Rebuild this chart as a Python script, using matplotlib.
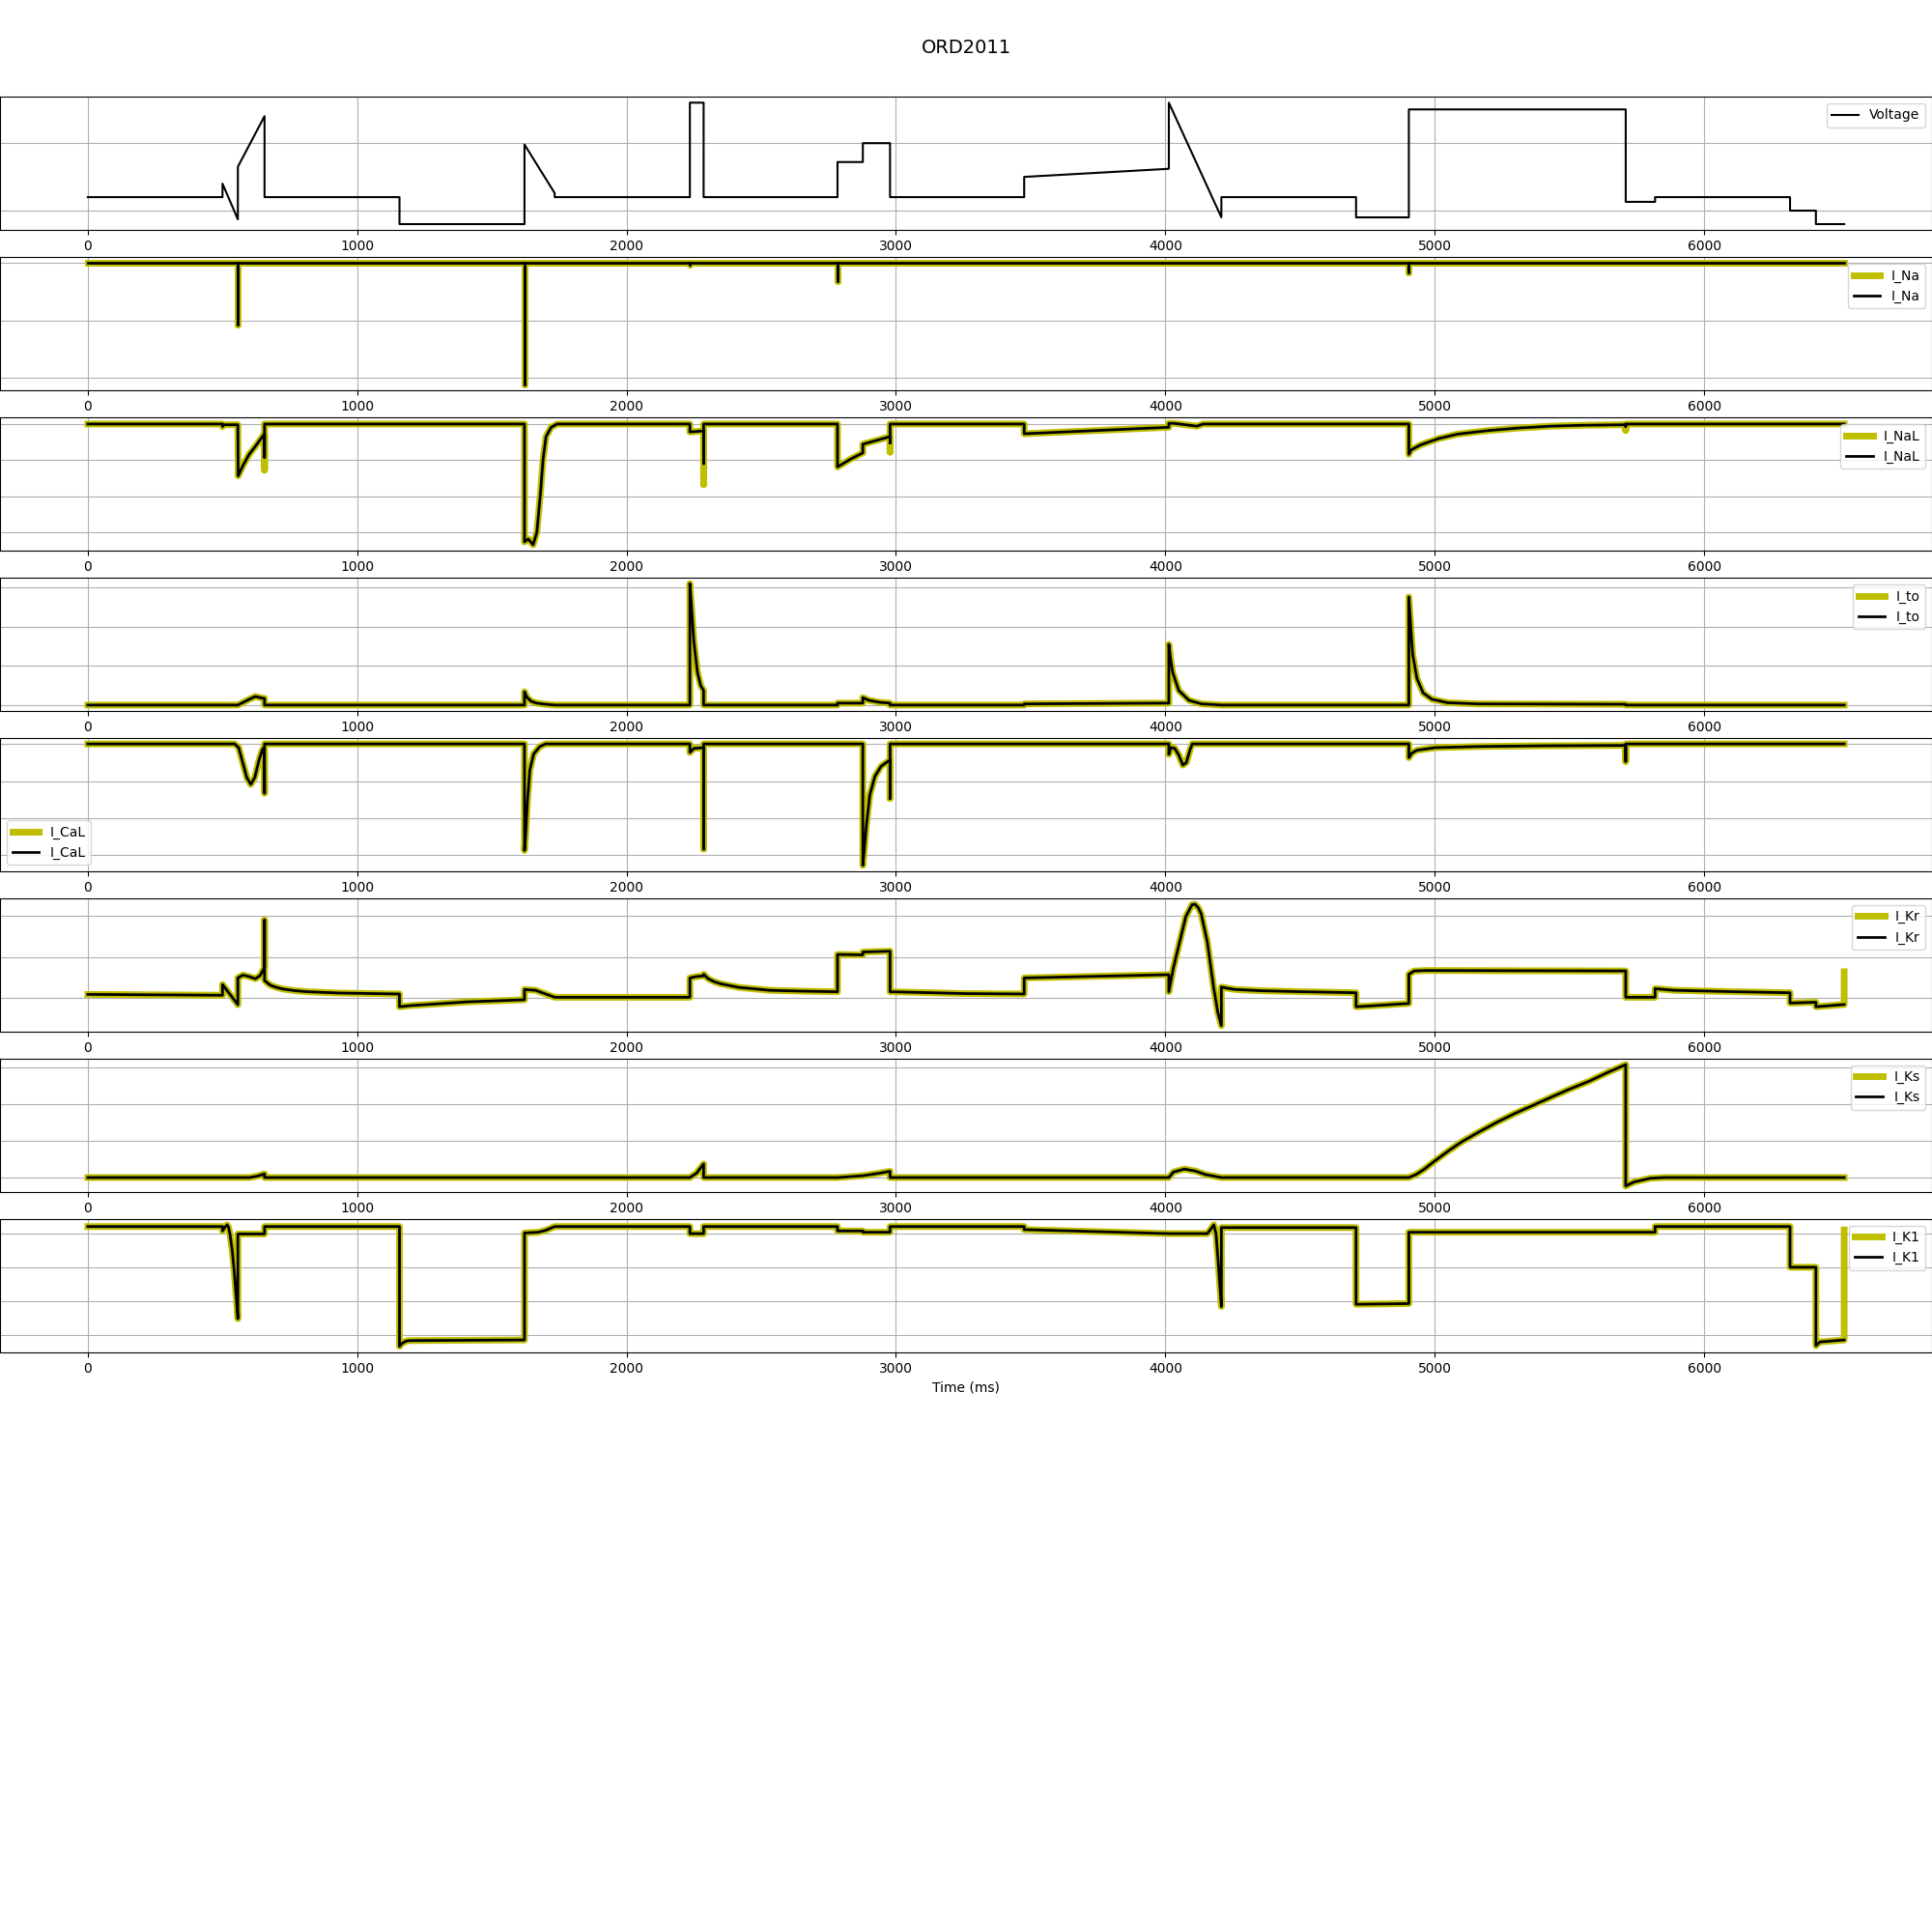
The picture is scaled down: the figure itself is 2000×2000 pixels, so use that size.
import matplotlib
matplotlib.use("Agg")
import matplotlib.pyplot as plt
from matplotlib.ticker import MultipleLocator

# ---------------- data ----------------
# Voltage protocol (ms, mV)
volt_t = [0, 500, 500, 557, 557, 656, 656, 1157, 1157, 1621, 1621, 1733, 1733, 2235, 2235, 2286, 2286,
          2783, 2783, 2877, 2877, 2978, 2978, 3476, 3476, 4013, 4013, 4208, 4208, 4708, 4708, 4904, 4904,
          5709, 5709, 5818, 5818, 6319, 6319, 6415, 6415, 6520]
volt_v = [-80, -80, -60, -113, -35, 40, -80, -80, -120, -120, -2, -74, -80, -80, 60, 60, -80,
          -80, -28, -28, 0, 0, -80, -80, -50, -38, 60, -110, -80, -80, -110, -110, 50,
          50, -87, -87, -80, -80, -100, -100, -120, -120]

# I_Na (arbitrary units)
ina_t = [0, 557, 557, 557, 1621, 1621, 1621, 2235, 2235, 2235, 2783, 2783, 2783, 4904, 4904, 4904, 6520]
ina_v = [0, 0, -1.07, 0, 0, -2.11, 0, 0, -0.03, 0, 0, -0.32, 0, 0, -0.17, 0, 0]

# I_NaL (simulation in black, reference in yellow; they differ only at tail spikes)
inal_t = [0, 500, 500, 503, 557, 558, 576, 599, 622, 652, 656, 656, 656,
          1621, 1621, 1635, 1653, 1667, 1681, 1690, 1701, 1720, 1742,
          2235, 2235, 2286, 2286, 2286, 2783, 2783, 2830, 2877, 2877, 2978, 2978, 2978,
          3476, 3476, 4013, 4013, 4030, 4117, 4140,
          4904, 4904, 4912, 4947, 5016, 5085, 5200, 5314, 5429, 5544, 5709, 5709, 5709, 6520]
inal_sim = [0, 0, -0.07, -0.02, -0.02, -1.44, -1.15, -0.84, -0.62, -0.31, -0.28, -0.93, 0,
            0, -3.27, -3.19, -3.35, -3.0, -1.86, -0.97, -0.35, -0.09, 0,
            0, -0.22, -0.19, -1.1, 0, 0, -1.19, -0.98, -0.80, -0.56, -0.35, -0.53, 0,
            0, -0.27, -0.09, 0.02, 0.02, -0.06, 0,
            0, -0.84, -0.72, -0.58, -0.40, -0.28, -0.18, -0.11, -0.06, -0.035, -0.02, -0.07, 0, 0]
inal_ref = [0, 0, -0.07, -0.02, -0.02, -1.44, -1.15, -0.84, -0.62, -0.31, -0.28, -1.28, 0,
            0, -3.27, -3.19, -3.35, -3.0, -1.86, -0.97, -0.35, -0.09, 0,
            0, -0.22, -0.19, -1.68, 0, 0, -1.19, -0.98, -0.80, -0.56, -0.35, -0.78, 0,
            0, -0.27, -0.09, 0.02, 0.02, -0.06, 0,
            0, -0.84, -0.72, -0.58, -0.40, -0.28, -0.18, -0.11, -0.06, -0.035, -0.02, -0.18, 0, 0]

# I_to
ito_t = [0, 557, 580, 600, 622, 645, 656, 656, 1621, 1621, 1630, 1645, 1665, 1700, 1733,
         2235, 2235, 2243, 2250, 2263, 2275, 2286, 2286, 2783, 2783, 2877, 2877, 2900, 2940, 2978, 2978,
         3476, 3476, 4013, 4013, 4020, 4027, 4050, 4088, 4134, 4208,
         4904, 4904, 4911, 4918, 4934, 4957, 4989, 5048, 5162, 5709, 5709, 6520]
ito_v = [0, 0, 0.08, 0.15, 0.22, 0.18, 0.17, 0, 0, 0.34, 0.2, 0.1, 0.05, 0.02, 0,
         0, 3.1, 2.3, 1.6, 0.84, 0.5, 0.37, 0, 0, 0.05, 0.05, 0.19, 0.12, 0.07, 0.05, 0,
         0, 0.03, 0.05, 1.55, 1.15, 0.84, 0.37, 0.12, 0.03, 0,
         0, 2.76, 2.0, 1.3, 0.68, 0.31, 0.15, 0.06, 0.03, 0.02, 0, 0]

# I_CaL
ical_t = [0, 545, 560, 575, 590, 605, 620, 635, 648, 655, 656, 656,
          1621, 1621, 1625, 1632, 1641, 1655, 1678, 1700,
          2235, 2235, 2250, 2286, 2286, 2286,
          2877, 2877, 2883, 2890, 2903, 2922, 2945, 2978, 2978, 2978,
          4013, 4013, 4020, 4035, 4050, 4065, 4078, 4092, 4100,
          4904, 4904, 4915, 4934, 5002, 5162, 5400, 5709, 5709, 5709, 6520]
ical_v = [0, 0, -0.1, -0.5, -0.9, -1.09, -0.9, -0.45, -0.15, -0.1, -1.33, 0,
          0, -2.87, -2.5, -1.53, -0.7, -0.27, -0.07, 0,
          0, -0.23, -0.12, -0.1, -2.83, 0,
          0, -3.27, -2.8, -2.2, -1.37, -0.87, -0.6, -0.43, -1.47, 0,
          0, -0.28, -0.1, -0.12, -0.3, -0.57, -0.5, -0.15, 0,
          0, -0.37, -0.25, -0.17, -0.1, -0.07, -0.05, -0.04, -0.47, 0, 0]

# I_Kr
ikr_t = [0, 500, 500, 557, 557, 576, 600, 622, 640, 652, 656, 656, 656, 668, 679, 700, 725, 770, 816, 931,
         1157, 1157, 1200, 1274, 1411, 1621, 1621, 1662, 1700, 1733,
         2235, 2235, 2257, 2286, 2286, 2303, 2325, 2348, 2417, 2531, 2646, 2783, 2783, 2877, 2877, 2978, 2978,
         3258, 3476, 3476, 4013, 4013, 4030, 4053, 4076, 4099, 4110, 4122, 4133, 4156, 4179, 4195, 4208,
         4208, 4230, 4259, 4351, 4511, 4708, 4708, 4904, 4904, 4924, 4970, 5709, 5709, 5818, 5818, 5888,
         6118, 6319, 6319, 6415, 6415, 6520]
ikr_v = [0.09, 0.07, 0.33, -0.16, 0.49, 0.56, 0.52, 0.47, 0.55, 0.70, 0.75, 1.9, 0.43, 0.36, 0.31, 0.26,
         0.22, 0.18, 0.155, 0.124,
         0.10, -0.21, -0.18, -0.15, -0.09, -0.04, 0.21, 0.19, 0.1, 0.02,
         0.02, 0.49, 0.52, 0.54, 0.58, 0.47, 0.40, 0.35, 0.26, 0.19, 0.17, 0.155, 1.06, 1.05, 1.12, 1.14,
         0.155, 0.11, 0.10, 0.49, 0.57, 0.155, 0.74, 1.36, 1.98, 2.27, 2.28, 2.2, 2.05, 1.36, 0.27, -0.35,
         -0.67, 0.27, 0.24, 0.21, 0.18, 0.155, 0.13, -0.21, -0.13, 0.58, 0.66, 0.67, 0.66, 0.02, 0.02, 0.23,
         0.19, 0.155, 0.13, -0.12, -0.10, -0.21, -0.155]
ikr_ref_end_t = [6520]
ikr_ref_end_v = [0.64]

# I_Ks
iks_t = [0, 600, 630, 656, 656, 2235, 2260, 2286, 2286, 2783, 2877, 2940, 2978, 2978,
         4013, 4030, 4070, 4110, 4150, 4208,
         4904, 4930, 4960, 5000, 5050, 5100, 5162, 5230, 5300, 5370, 5437, 5500, 5574, 5640, 5709,
         5709, 5740, 5800, 5850, 6520]
iks_v = [0, 0, 0.04, 0.1, 0, 0, 0.12, 0.37, 0, 0, 0.05, 0.12, 0.17, 0,
         0, 0.15, 0.23, 0.18, 0.08, 0,
         0, 0.08, 0.22, 0.45, 0.72, 0.97, 1.23, 1.5, 1.75, 1.98, 2.2, 2.4, 2.62, 2.85, 3.07,
         -0.23, -0.12, -0.02, 0, 0]

# I_K1
ik1_t = [0, 500, 500, 508, 517, 522, 528, 536, 544, 551, 557, 557, 656, 656,
         1157, 1157, 1165, 1180, 1192, 1621, 1621, 1672, 1700, 1733,
         2235, 2235, 2286, 2286, 2783, 2783, 2877, 2877, 2978, 2978,
         3476, 3476, 4013, 4156, 4170, 4180, 4188, 4195, 4202, 4208, 4208,
         4708, 4708, 4904, 4904, 5709, 5818, 5818, 6319, 6319, 6415, 6415, 6430, 6520]
ik1_v = [3.21, 3.21, 3.08, 3.18, 3.26, 3.2, 2.97, 2.5, 1.84, 1.1, 0.47, 2.99, 2.99, 3.21,
         3.21, -0.35, -0.27, -0.2, -0.18, -0.16, 3.02, 3.04, 3.1, 3.21,
         3.21, 3.0, 3.0, 3.21, 3.21, 3.08, 3.08, 3.04, 3.04, 3.21,
         3.21, 3.12, 3.0, 3.0, 3.15, 3.26, 3.0, 2.3, 1.5, 0.83, 3.18,
         3.18, 0.9, 0.92, 3.04, 3.04, 3.04, 3.21, 3.21, 2.0, 2.0, -0.33, -0.22, -0.16]
ik1_ref_end_t = [6520]
ik1_ref_end_v = [3.11]

# ---------------- plot ----------------
YELLOW = (0.75, 0.75, 0.0)

fig, axes = plt.subplots(8, 1, figsize=(20, 20), dpi=100)
fig.subplots_adjust(left=0, right=1, top=0.95, bottom=0.30, hspace=0.2)
fig.suptitle("ORD2011", fontsize=14)

ax = axes[0]
ax.plot(volt_t, volt_v, color="k", lw=1.5, label="Voltage")
ax.yaxis.set_major_locator(MultipleLocator(100))
ax.legend(loc="upper right")

panels = [
    ("I_Na", ina_t, ina_v, ina_t, ina_v, "upper right"),
    ("I_NaL", inal_t, inal_ref, inal_t, inal_sim, "upper right"),
    ("I_to", ito_t, ito_v, ito_t, ito_v, "upper right"),
    ("I_CaL", ical_t, ical_v, ical_t, ical_v, "lower left"),
    ("I_Kr", ikr_t + ikr_ref_end_t, ikr_v + ikr_ref_end_v, ikr_t, ikr_v, "upper right"),
    ("I_Ks", iks_t, iks_v, iks_t, iks_v, "upper right"),
    ("I_K1", ik1_t + ik1_ref_end_t, ik1_v + ik1_ref_end_v, ik1_t, ik1_v, "upper right"),
]
for ax, (name, rt, rv, st, sv, loc) in zip(axes[1:], panels):
    ax.plot(rt, rv, color=YELLOW, lw=5, label=name)
    ax.plot(st, sv, color="k", lw=2, label=name)
    ax.legend(loc=loc)

for ax in axes:
    ax.grid(True)
    ax.set_yticklabels([])

axes[-1].set_xlabel("Time (ms)")

fig.savefig("out.png", dpi=100)
